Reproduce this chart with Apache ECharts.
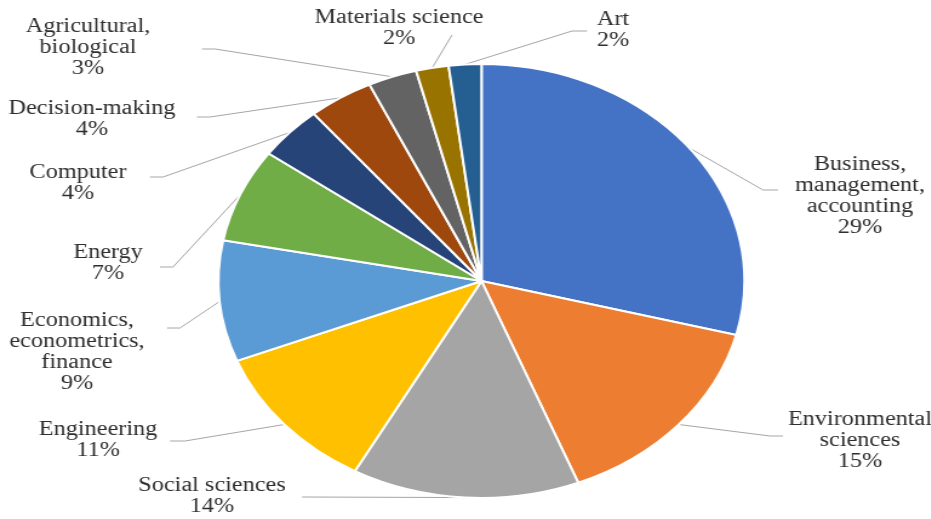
<!DOCTYPE html>
<html>
<head>
<meta charset="utf-8">
<script src="https://cdn.jsdelivr.net/npm/echarts@6/dist/echarts.min.js"></script>
<style>
  html, body { margin: 0; padding: 0; background: #fff; overflow: hidden; }
  #stage { width: 931px; height: 519px; position: relative; overflow: hidden; }
  #chart { position: absolute; left: 0; top: 0; height: 519px; transform-origin: 0 0; }
</style>
</head>
<body>
<div id="stage"><div id="chart"></div></div>
<script>
// Share of publications by subject area (%)
const categories = [
  'Business,\nmanagement,\naccounting',
  'Environmental\nsciences',
  'Social sciences',
  'Engineering',
  'Economics,\neconometrics,\nfinance',
  'Energy',
  'Computer',
  'Decision-making',
  'Agricultural,\nbiological',
  'Materials science',
  'Art'
];
const shares = [29, 15, 14, 11, 9, 7, 4, 4, 3, 2, 2];
const colors = ['#4472C4', '#ED7D31', '#A5A5A5', '#FFC000', '#5B9BD5', '#70AD47',
                '#264478', '#9E480E', '#636363', '#997300', '#255E91'];

// The figure is drawn on a narrower canvas and stretched horizontally.
const SX = 1.212;
const W = 931 / SX;
const CX = 481.5 / SX, CY = 281, R = 217;
const SERIF = 'Liberation Serif';

// Label text centres and leader-line tails (page pixels, from slice edge outward).
const labelSpots = [
  { x: 860, y: 196, tail: [[763, 190], [778, 190]] },
  { x: 860, y: 441, tail: [[770, 436], [783, 436]] },
  { x: 212, y: 496, tail: [[302, 497]] },
  { x: 98,  y: 440, tail: [[185, 441], [170, 441]] },
  { x: 77,  y: 352, tail: [[180, 328], [167, 328]] },
  { x: 108, y: 263, tail: [[173, 267], [160, 267]] },
  { x: 78,  y: 183, tail: [[163, 177], [150, 177]] },
  { x: 92,  y: 119, tail: [[210, 117], [197, 117]] },
  { x: 88,  y: 48,  tail: [[215, 49], [202, 49]] },
  { x: 399, y: 28,  tail: [[452, 35]] },
  { x: 613, y: 30,  tail: [[572, 31], [587, 31]] }
];

const total = shares.reduce((a, b) => a + b, 0);
// Mid-angle point on the rim of each slice (clockwise from 12 o'clock)
function rimPoint(i) {
  let before = 0;
  for (let k = 0; k < i; k++) before += shares[k];
  const a = (before + shares[i] / 2) / total * Math.PI * 2;
  return [CX + R * Math.sin(a), CY - R * Math.cos(a)];
}

const el = document.getElementById('chart');
el.style.width = W + 'px';
el.style.transform = 'scaleX(' + SX + ')';

const chart = echarts.init(el, null, { renderer: 'canvas' });
chart.setOption({
  backgroundColor: '#ffffff',
  animation: false,
  textStyle: { fontFamily: SERIF },
  series: [{
    type: 'pie',
    center: [CX, CY],
    radius: R,
    startAngle: 90,
    clockwise: true,
    avoidLabelOverlap: false,
    data: categories.map((name, i) => ({ name: name, value: shares[i], itemStyle: { color: colors[i] } })),
    itemStyle: { borderColor: '#ffffff', borderWidth: 2 },
    label: {
      show: true,
      position: 'outside',
      formatter: p => p.name + '\n' + p.value + '%',
      fontFamily: SERIF,
      fontSize: 20,
      lineHeight: 21,
      color: '#2e2e2e',
      align: 'center'
    },
    labelLine: { show: true, lineStyle: { color: '#a6a6a6', width: 1 } },
    labelLayout: function (params) {
      const i = params.dataIndex;
      const s = labelSpots[i];
      return {
        x: s.x / SX,
        y: s.y,
        align: 'center',
        verticalAlign: 'middle',
        labelLinePoints: [rimPoint(i)].concat(s.tail.map(p => [p[0] / SX, p[1]]))
      };
    },
    emphasis: { disabled: true }
  }]
});
</script>
</body>
</html>
